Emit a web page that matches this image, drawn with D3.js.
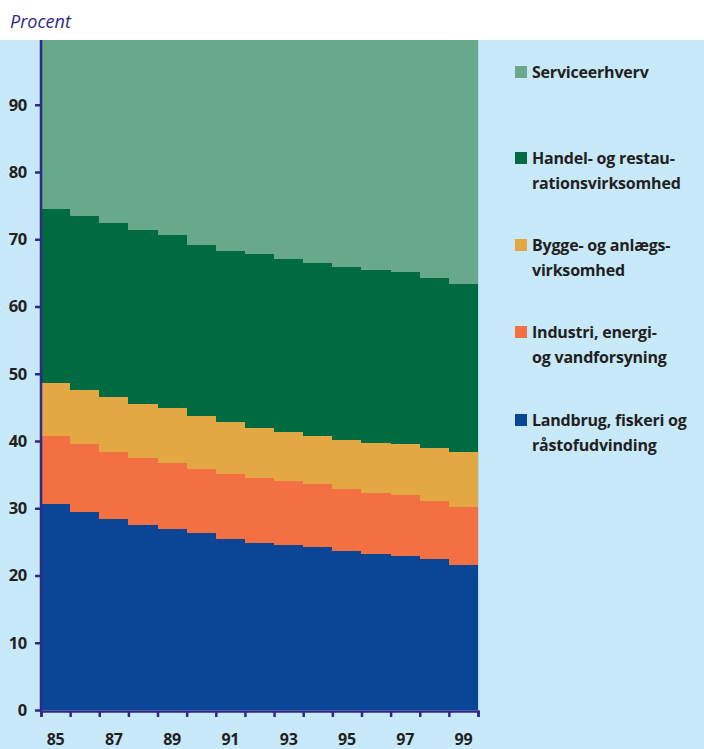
<!DOCTYPE html>
<html><head><meta charset="utf-8">
<script src="https://cdn.jsdelivr.net/npm/d3@7"></script>
<style>body{margin:0;background:#c8e9f9;}svg{display:block;}</style>
</head><body>
<svg id="c" width="704" height="749"></svg>
<script>
const years = ["85","86","87","88","89","90","91","92","93","94","95","96","97","98","99"];
const tickLabels = ["85","87","89","91","93","95","97","99"];
const yTicks = [0,10,20,30,40,50,60,70,80,90];
const seriesNames = ["Landbrug","Industri","Bygge","Handel","Service"];
const landbrug = [30.6,29.4,28.4,27.5,26.9,26.3,25.4,24.9,24.5,24.2,23.7,23.2,22.9,22.4,21.6];
const industri = [10.1,10.2,10.0,9.9,9.9,9.6,9.7,9.6,9.5,9.4,9.2,9.1,9.0,8.7,8.6];
const bygge    = [7.9,8.0,8.1,8.1,8.1,7.8,7.7,7.5,7.4,7.2,7.2,7.4,7.7,7.9,8.2];
const handel   = [25.9,25.9,25.9,25.9,25.7,25.4,25.5,25.8,25.7,25.7,25.8,25.7,25.5,25.2,25.0];
const service  = [25.5,26.5,27.6,28.6,29.4,30.9,31.7,32.2,32.9,33.5,34.1,34.6,34.9,35.8,36.6];
const colors = ["#0b4696","#f37043","#e3a843","#006a40","#67a98a"];
const legendItems = [
  {name:"Service", lines:["Serviceerhverv"]},
  {name:"Handel", lines:["Handel- og restau-","rationsvirksomhed"]},
  {name:"Bygge", lines:["Bygge- og anlægs-","virksomhed"]},
  {name:"Industri", lines:["Industri, energi-","og vandforsyning"]},
  {name:"Landbrug", lines:["Landbrug, fiskeri og","råstofudvinding"]}
];

const table = years.map((y,i)=>({year:y, Landbrug:landbrug[i], Industri:industri[i], Bygge:bygge[i], Handel:handel[i], Service:service[i]}));
const svg = d3.select("#c");
const navy = "#2e2a85";
const font = "'Open Sans', sans-serif";
const x = d3.scaleBand().domain(years).range([41,478]).padding(0);
const y = d3.scaleLinear().domain([0,100]).range([710,37.5]);
const color = d3.scaleOrdinal().domain(seriesNames).range(colors);

svg.append("rect").attr("width",704).attr("height",749).attr("fill","#c8e9f9");

const stacked = d3.stack().keys(seriesNames)(table);
svg.append("g").attr("shape-rendering","crispEdges").selectAll("g").data(stacked).join("g")
  .attr("fill", d=>color(d.key))
  .selectAll("rect").data(d=>d).join("rect")
  .attr("x", d=>x(d.data.year)).attr("width", x.bandwidth()+0.6)
  .attr("y", d=>y(d[1])).attr("height", d=>y(d[0])-y(d[1]));

// right edge light line
svg.append("line").attr("x1",478.5).attr("x2",478.5).attr("y1",40).attr("y2",710)
  .attr("stroke","#aed9ee").attr("stroke-width",1);

// header
svg.append("rect").attr("width",704).attr("height",40).attr("fill","#ffffff");
svg.append("text").attr("x",10).attr("y",27.5).text("Procent")
  .attr("font-family",font).attr("font-style","italic")
  .attr("font-size",18).attr("fill",navy);

// y axis
const yAxis = svg.append("g").attr("transform","translate(41,0)")
  .call(d3.axisLeft(y).tickValues(yTicks).tickSize(6).tickPadding(8));
yAxis.select(".domain").remove();
yAxis.selectAll("line").attr("stroke",navy).attr("stroke-width",2.5);
yAxis.selectAll("text").attr("font-family",font).attr("font-weight","bold")
  .attr("font-size",16.5).attr("fill","#231f20").attr("letter-spacing",-0.3);
svg.append("line").attr("x1",41).attr("x2",41).attr("y1",40).attr("y2",712)
  .attr("stroke",navy).attr("stroke-width",2.5);

// x axis
const xb = d3.scaleLinear().domain([0,years.length]).range([41,478]);
const xAxis = svg.append("g").attr("transform","translate(0,711)")
  .call(d3.axisBottom(xb).tickValues(d3.range(years.length+1)).tickSize(6).tickFormat(""));
xAxis.select(".domain").attr("stroke",navy).attr("stroke-width",2.5);
xAxis.selectAll("line").attr("stroke",navy).attr("stroke-width",2.5);
svg.append("g").selectAll("text").data(tickLabels).join("text")
  .attr("x", d=>x(d)+x.bandwidth()/2).attr("y",744.5).attr("text-anchor","middle")
  .attr("font-family",font).attr("font-weight","bold").attr("letter-spacing",-0.3)
  .attr("font-size",16).attr("fill","#231f20").text(d=>d);

// legend
const legY = [72, 158, 245, 332, 420];
const lg = svg.append("g").selectAll("g").data(legendItems).join("g")
  .attr("transform",(d,i)=>`translate(515,${legY[i]})`);
lg.append("rect").attr("x",0).attr("y",-6).attr("width",12).attr("height",12)
  .attr("fill",d=>color(d.name));
lg.each(function(d){
  const g = d3.select(this);
  d.lines.forEach((t,j)=>{
    g.append("text").attr("x",17).attr("y",6+j*24.5).text(t)
      .attr("font-family",font).attr("font-weight","bold").attr("letter-spacing",-0.2)
      .attr("font-size",16).attr("fill","#231f20");
  });
});
</script>
</body></html>
